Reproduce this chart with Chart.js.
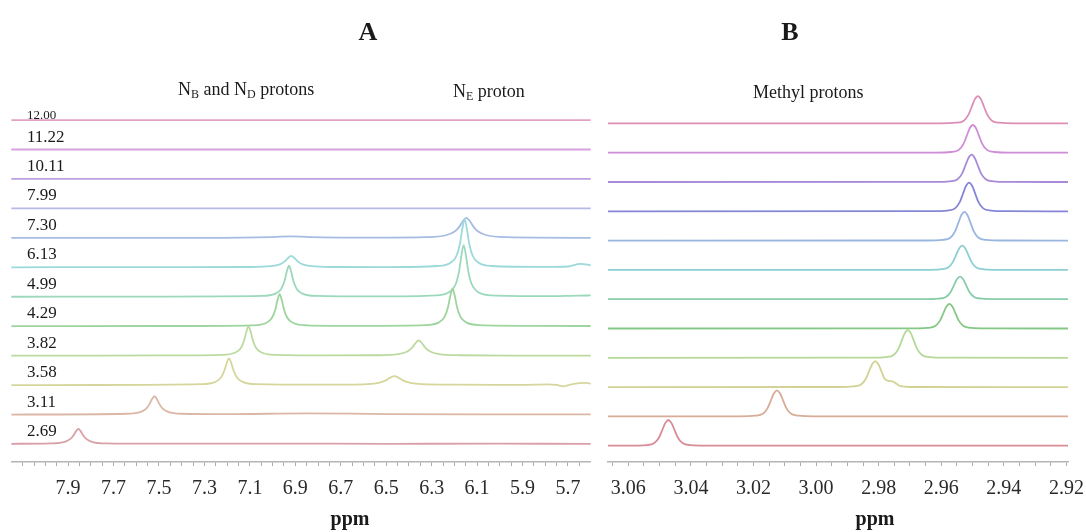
<!DOCTYPE html>
<html>
<head>
<meta charset="utf-8">
<script src="https://cdn.jsdelivr.net/npm/chart.js@4.4.1/dist/chart.umd.min.js"></script>
<style>
  body { margin: 0; background: #fff; width: 1086px; height: 532px; overflow: hidden; position: relative;
         font-family: "Liberation Serif", "Times New Roman", serif; color: #1a1a1a; }
  canvas { position: absolute; top: 0; }
  .lbl { position: absolute; white-space: nowrap; line-height: 1; }
  .ttl { font-size: 26px; font-weight: bold; transform: translateX(-50%); }
  .sub { font-size: 18px; }
  .sub sub { font-size: 12px; vertical-align: -3px; }
  .ppm { font-size: 20px; font-weight: bold; transform: translateX(-50%); }
</style>
</head>
<body>
<canvas id="chartA" width="600" height="532" style="left:0"></canvas>
<canvas id="chartB" width="486" height="532" style="left:600px"></canvas>

<div class="lbl ttl" style="left:368px; top:19px">A</div>
<div class="lbl ttl" style="left:790px; top:19px">B</div>
<div class="lbl sub" style="left:178px; top:80px">N<sub>B</sub> and N<sub>D</sub> protons</div>
<div class="lbl sub" style="left:453px; top:82px">N<sub>E</sub> proton</div>
<div class="lbl sub" style="left:753px; top:83px">Methyl protons</div>
<div class="lbl ppm" style="left:350px; top:508px">ppm</div>
<div class="lbl ppm" style="left:875px; top:508px">ppm</div>

<script>
// pH of each spectrum, bottom to top
const PH_LABELS = ['2.69', '3.11', '3.58', '3.82', '4.29', '4.99', '6.13', '7.30', '7.99', '10.11', '11.22', '12.00'];

const COLORS_A = ['#d9a0a8', '#dbb7a6', '#d6d69c', '#bcdaa0', '#9ed49e', '#9cd8bc', '#9cd9da',
                  '#a6bce2', '#b8b8e8', '#b9a0e0', '#d8a0e0', '#e2a2c2'];
const COLORS_B = ['#d88c96', '#d8ac96', '#d2d294', '#b6d898', '#84c886', '#88ccaa', '#8cd0d2',
                  '#98b6e0', '#8686d6', '#a88ad8', '#d08cd8', '#dc8eb4'];

// x-axis tick labels (ppm)
const TICKS_A = [7.9, 7.7, 7.5, 7.3, 7.1, 6.9, 6.7, 6.5, 6.3, 6.1, 5.9, 5.7];
const TICKS_B = [3.06, 3.04, 3.02, 3.00, 2.98, 2.96, 2.94, 2.92];

// --- panel A : [ppm, intensity] ---
const A_269 = [[8.15,0.2],[7.975,0.6],[7.915,2.2],[7.89,5.1],[7.875,9.1],[7.865,12.9],[7.855,15],[7.845,12.9],[7.835,9.1],
  [7.82,5.1],[7.795,2.2],[7.735,0.6],[7.5,0.3],[7.0,0.4],[6.5,0.2],[6.0,0.3],[5.6,0.2]];
const A_311 = [[8.15,0],[7.64,0.8],[7.58,2.7],[7.555,6.2],[7.54,11.2],[7.53,15.8],[7.52,18.3],[7.51,15.8],[7.5,11.2],
  [7.485,6.2],[7.46,2.7],[7.40,0.8],[7.2,0.4],[6.85,1.2],[6.5,0.5],[6.0,0.2],[5.6,0.1]];
const A_358 = [[8.15,0],[7.8,0.1],[7.312,0.9],[7.252,3.2],[7.227,7.5],[7.212,14.7],[7.202,22.1],[7.192,26.7],[7.182,22.1],
  [7.172,14.7],[7.157,7.5],[7.132,3.2],[7.072,0.9],[6.8,0.4],[6.664,0.5],[6.584,0.9],[6.534,2.2],[6.504,4.5],[6.484,7.2],
  [6.464,9],[6.444,7.2],[6.424,4.5],[6.394,2.2],[6.344,0.9],[6.2,0.4],[5.9,0.3],[5.79,0.8],[5.75,0.2],[5.72,-1.2],
  [5.69,0.5],[5.65,2],[5.62,2.2],[5.6,1.5]];
const A_382 = [[8.15,0],[7.5,0.2],[7.226,0.8],[7.166,2.9],[7.141,7.2],[7.126,14.7],[7.116,23.4],[7.106,29.3],[7.096,23.4],
  [7.086,14.7],[7.071,7.2],[7.046,2.9],[6.986,0.8],[6.75,0.3],[6.537,0.4],[6.447,1.5],[6.407,4.1],[6.387,7.7],[6.372,12.2],
  [6.357,15.3],[6.342,12.2],[6.327,7.7],[6.307,4.1],[6.267,1.5],[6.177,0.4],[5.9,0.1],[5.6,0]];
const A_429 = [[8.15,0],[7.5,0.2],[7.089,0.9],[7.029,3.2],[7.004,7.9],[6.989,16],[6.979,25.6],[6.969,32],[6.959,25.6],
  [6.949,16],[6.934,7.9],[6.909,3.2],[6.849,0.9],[6.6,0.3],[6.328,1.0],[6.268,3.8],[6.243,9.3],[6.228,18.9],[6.218,30.2],
  [6.208,37.7],[6.198,30.2],[6.188,18.9],[6.173,9.3],[6.148,3.8],[6.088,1.0],[5.85,0.3],[5.6,0.2]];
const A_499 = [[8.15,0],[7.5,0.2],[7.048,0.8],[6.988,3.1],[6.963,7.6],[6.948,15.5],[6.938,24.8],[6.928,31],[6.918,24.8],
  [6.908,15.5],[6.893,7.6],[6.868,3.1],[6.808,0.8],[6.55,0.3],[6.279,1.4],[6.219,5.2],[6.194,12.7],[6.179,25.9],[6.169,41.4],
  [6.159,51.7],[6.149,41.4],[6.139,25.9],[6.124,12.7],[6.099,5.2],[6.039,1.4],[5.8,0.6],[5.65,1.2],[5.6,1.3]];
const A_613 = [[8.15,0],[7.5,0.2],[7.098,0.3],[7.008,1.1],[6.968,3.0],[6.948,5.7],[6.933,9.1],[6.918,11.4],[6.903,9.1],
  [6.888,5.7],[6.868,3.0],[6.828,1.1],[6.738,0.3],[6.5,0.2],[6.275,1.3],[6.215,4.8],[6.19,11.8],[6.175,24],[6.165,38.4],
  [6.155,48],[6.145,38.4],[6.135,24],[6.12,11.8],[6.095,4.8],[6.035,1.3],[5.8,0.4],[5.7,0.8],[5.645,3.5],[5.6,2.0]];
const A_730 = [[8.15,0],[7.3,0],[7.0,0.8],[6.92,1.5],[6.84,0.8],[6.5,0.3],[6.327,0.7],[6.237,2.6],[6.197,6.6],[6.177,11.5],
  [6.162,16.9],[6.147,20],[6.132,16.9],[6.117,11.5],[6.097,6.6],[6.057,2.6],[5.967,0.7],[5.6,0]];
const A_799 = [[8.15,0],[5.6,0]];
const A_1011 = [[8.15,0],[5.6,0]];
const A_1122 = [[8.15,0],[5.6,0]];
const A_1200 = [[8.15,0],[5.6,0]];

// --- panel B : [ppm, intensity] ---
const B_269 = [[3.0665,0],[3.0592,0.1],[3.0542,0.6],[3.0517,2.6],[3.0502,8.2],[3.0492,15.4],[3.0482,22.6],[3.0472,25.7],
  [3.0462,22.6],[3.0452,15.4],[3.0442,8.2],[3.0427,2.6],[3.0402,0.6],[3.0352,0.1],[2.9195,0]];
const B_311 = [[3.0665,0],[3.0245,0.1],[3.0195,0.7],[3.017,2.6],[3.0155,8.3],[3.0145,15.6],[3.0135,22.9],[3.0125,26],
  [3.0115,22.9],[3.0105,15.6],[3.0095,8.3],[3.008,2.6],[3.0055,0.7],[3.0005,0.1],[2.9195,0]];
const B_358 = [[3.0665,0],[2.9931,0.1],[2.9881,0.7],[2.9856,2.6],[2.9841,8.3],[2.9831,15.6],[2.9821,22.9],[2.9811,26],
  [2.9801,22.9],[2.9791,15.6],[2.9781,8.3],[2.9768,6.2],[2.9755,5.6],[2.9742,3.0],[2.9730,0.9],[2.9700,0.1],[2.9195,0]];
const B_382 = [[3.0665,0],[2.9827,0.1],[2.9777,0.7],[2.9752,2.8],[2.9737,8.9],[2.9727,16.6],[2.9717,24.4],[2.9707,27.7],
  [2.9697,24.4],[2.9687,16.6],[2.9677,8.9],[2.9662,2.8],[2.9637,0.7],[2.9587,0.1],[2.9195,0]];
const B_429 = [[3.0665,0],[2.9694,0.1],[2.9644,0.6],[2.9619,2.5],[2.9604,7.9],[2.9594,14.8],[2.9584,21.7],[2.9574,24.7],
  [2.9564,21.7],[2.9554,14.8],[2.9544,7.9],[2.9529,2.5],[2.9504,0.6],[2.9454,0.1],[2.9195,0]];
const B_499 = [[3.0665,0],[2.9660,0.1],[2.9610,0.6],[2.9585,2.3],[2.9570,7.2],[2.9560,13.6],[2.9550,19.9],[2.9540,22.6],
  [2.9530,19.9],[2.9520,13.6],[2.9510,7.2],[2.9495,2.3],[2.9470,0.6],[2.9420,0.1],[2.9195,0]];
const B_613 = [[3.0665,0],[2.9653,0.1],[2.9603,0.6],[2.9578,2.4],[2.9563,7.8],[2.9553,14.6],[2.9543,21.4],[2.9533,24.3],
  [2.9523,21.4],[2.9513,14.6],[2.9503,7.8],[2.9488,2.4],[2.9463,0.6],[2.9413,0.1],[2.9195,0]];
const B_730 = [[3.0665,0],[2.9646,0.1],[2.9596,0.7],[2.9571,2.9],[2.9556,9.2],[2.9546,17.2],[2.9536,25.3],[2.9526,28.7],
  [2.9516,25.3],[2.9506,17.2],[2.9496,9.2],[2.9481,2.9],[2.9456,0.7],[2.9406,0.1],[2.9195,0]];
const B_799 = [[3.0665,0],[2.9631,0.1],[2.9581,0.7],[2.9556,2.9],[2.9541,9.2],[2.9531,17.2],[2.9521,25.3],[2.9511,28.7],
  [2.9501,25.3],[2.9491,17.2],[2.9481,9.2],[2.9466,2.9],[2.9441,0.7],[2.9391,0.1],[2.9195,0]];
const B_1011 = [[3.0665,0],[2.9623,0.1],[2.9573,0.7],[2.9548,2.7],[2.9533,8.7],[2.9523,16.4],[2.9513,24.0],[2.9503,27.3],
  [2.9493,24.0],[2.9483,16.4],[2.9473,8.7],[2.9458,2.7],[2.9433,0.7],[2.9383,0.1],[2.9195,0]];
const B_1122 = [[3.0665,0],[2.9619,0.1],[2.9569,0.7],[2.9544,2.8],[2.9529,8.9],[2.9519,16.6],[2.9509,24.4],[2.9499,27.7],
  [2.9489,24.4],[2.9479,16.6],[2.9469,8.9],[2.9454,2.8],[2.9429,0.7],[2.9379,0.1],[2.9195,0]];
const B_1200 = [[3.0665,0],[2.9603,0.1],[2.9553,0.7],[2.9528,2.7],[2.9513,8.7],[2.9503,16.4],[2.9493,24.0],[2.9483,27.3],
  [2.9473,24.0],[2.9463,16.4],[2.9453,8.7],[2.9438,2.7],[2.9413,0.7],[2.9363,0.1],[2.9195,0]];

const TRACES_A = [A_269, A_311, A_358, A_382, A_429, A_499, A_613, A_730, A_799, A_1011, A_1122, A_1200];
const TRACES_B = [B_269, B_311, B_358, B_382, B_429, B_499, B_613, B_730, B_799, B_1011, B_1122, B_1200];

// vertical gap between stacked spectra
const STEP_A = 29.45;
const STEP_B = 29.3;

function buildSets(traces, colors, step) {
    return traces.map((pts, i) => ({
        data: pts.map(p => ({ x: p[0], y: i * step + p[1] })),
        borderColor: colors[i],
        borderWidth: 1.8,
        pointRadius: 0,
        showLine: true,
        fill: false,
        cubicInterpolationMode: 'monotone',
        clip: false
    }));
}

// minor ticks all along, labels only on the named ticks
function xAxis(min, max, minorStep, labels, digits, pad) {
    return {
        type: 'linear', reverse: true, min: min, max: max,
        afterBuildTicks: axis => {
            const out = [];
            for (let k = Math.ceil(min / minorStep - 1e-9); k * minorStep <= max + 1e-9; k++) {
                out.push({ value: +(k * minorStep).toFixed(6) });
            }
            axis.ticks = out;
        },
        ticks: {
            autoSkip: false, maxRotation: 0, padding: pad,
            color: '#2a2a2a',
            font: { family: '"Liberation Serif", serif', size: 20 },
            callback: v => {
                const hit = labels.find(t => Math.abs(t - v) < minorStep / 10);
                return hit === undefined ? '' : hit.toFixed(digits);
            }
        },
        grid: { drawOnChartArea: false, drawTicks: true, tickLength: 4, tickColor: '#aaa' },
        border: { color: '#b5b5b5', width: 1.5 }
    };
}

const phLabels = {
    id: 'phLabels',
    afterDatasetsDraw(chart) {
        const { ctx, chartArea, scales } = chart;
        ctx.save();
        ctx.fillStyle = '#1a1a1a';
        ctx.textBaseline = 'alphabetic';
        PH_LABELS.forEach((t, i) => {
            const last = i === PH_LABELS.length - 1;
            ctx.font = (last ? 13 : 17) + 'px "Liberation Serif"';
            const y = scales.y.getPixelForValue(i * STEP_A);
            ctx.fillText(t, chartArea.left + 15, y - (last ? 1.5 : 8));
        });
        ctx.restore();
    }
};

function makeChart(id, sets, xOpts, yMin, yMax, padding, plugins) {
    return new Chart(document.getElementById(id), {
        type: 'scatter',
        data: { datasets: sets },
        options: {
            responsive: false,
            animation: false,
            devicePixelRatio: 1,
            layout: { padding: padding },
            plugins: { legend: { display: false }, tooltip: { enabled: false } },
            scales: {
                x: xOpts,
                y: { display: false, min: yMin, max: yMax }
            }
        },
        plugins: plugins
    });
}

makeChart('chartA', buildSets(TRACES_A, COLORS_A, STEP_A),
    xAxis(5.603, 8.147, 0.05, TICKS_A, 1, 11), -18, 354,
    { left: 12, right: 10, top: 90, bottom: 20 }, [phLabels]);

makeChart('chartB', buildSets(TRACES_B, COLORS_B, STEP_B),
    xAxis(2.9195, 3.0665, 0.005, TICKS_B, 2, 11), -16.3, 355.7,
    { left: 8, right: 18, top: 90, bottom: 20 }, []);
</script>
</body>
</html>
